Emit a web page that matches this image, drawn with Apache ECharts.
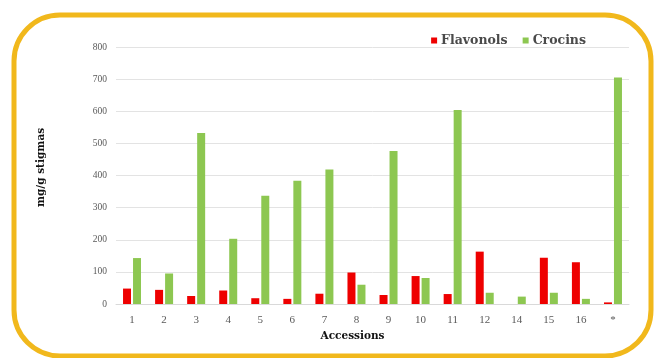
<!DOCTYPE html>
<html>
<head>
<meta charset="utf-8">
<script src="https://cdn.jsdelivr.net/npm/echarts@6/dist/echarts.min.js"></script>
<style>
  html, body { margin: 0; padding: 0; background: #ffffff; }
  #chart { width: 655px; height: 358px; }
</style>
</head>
<body>
<div id="chart"></div>
<script>
// Accession labels along the x axis
const accessions = ['1', '2', '3', '4', '5', '6', '7', '8', '9', '10', '11', '12', '14', '15', '16', '*'];
// Content per accession, mg/g stigmas
const flavonols = [48, 44, 25, 42, 18, 16, 32, 98, 28, 87, 31, 163, 0, 144, 130, 5];
const crocins   = [143, 95, 532, 203, 337, 384, 419, 60, 476, 81, 604, 35, 23, 35, 16, 705];
// Value axis ticks
const yTicks = [0, 100, 200, 300, 400, 500, 600, 700, 800];

const serif = '"Liberation Serif", "DejaVu Serif", serif';
const wideSerif = '"DejaVu Serif", "Liberation Serif", serif';

const chart = echarts.init(document.getElementById('chart'), null, { renderer: 'canvas' });
chart.setOption({
  backgroundColor: '#ffffff',
  animation: false,
  graphic: [{
    type: 'rect',
    shape: { x: 14, y: 15, width: 637, height: 341, r: 46 },
    style: { fill: 'none', stroke: '#F1B81C', lineWidth: 5 },
    z: -1
  }],
  legend: {
    right: 64,
    top: 29,
    itemWidth: 6,
    itemHeight: 6,
    itemGap: 15,
    icon: 'rect',
    textStyle: { fontFamily: wideSerif, fontSize: 12.5, fontWeight: 'bold', color: '#4a4a4a', padding: [0, 0, 0, -1] },
    data: ['Flavonols', 'Crocins']
  },
  grid: { left: 116, right: 26, top: 47, bottom: 54 },
  xAxis: {
    type: 'category',
    data: accessions,
    name: 'Accessions',
    nameLocation: 'middle',
    nameGap: 27,
    nameTextStyle: { fontFamily: wideSerif, fontSize: 10.5, fontWeight: 'bold', color: '#111111', padding: [0, 40, 0, 0] },
    axisLine: { lineStyle: { color: '#D9D9D9' } },
    axisTick: { show: false },
    axisLabel: { fontFamily: serif, fontSize: 11, color: '#595959', margin: 11 }
  },
  yAxis: {
    type: 'value',
    min: yTicks[0],
    max: yTicks[yTicks.length - 1],
    interval: 100,
    name: 'mg/g stigmas',
    nameLocation: 'middle',
    nameGap: 69,
    nameRotate: 90,
    nameTextStyle: { fontFamily: wideSerif, fontSize: 10.5, fontWeight: 'bold', color: '#111111', padding: [0, 0, 0, 16] },
    axisLine: { show: false },
    axisTick: { show: false },
    axisLabel: { fontFamily: serif, fontSize: 9.5, color: '#595959', margin: 9 },
    splitLine: { lineStyle: { color: '#E3E3E3', width: 1 } }
  },
  series: [
    {
      name: 'Flavonols',
      type: 'bar',
      data: flavonols,
      barWidth: 8,
      barGap: '25%',
      itemStyle: { color: '#EE0000' }
    },
    {
      name: 'Crocins',
      type: 'bar',
      data: crocins,
      barWidth: 8,
      itemStyle: { color: '#8DC751' }
    }
  ]
});
</script>
</body>
</html>
